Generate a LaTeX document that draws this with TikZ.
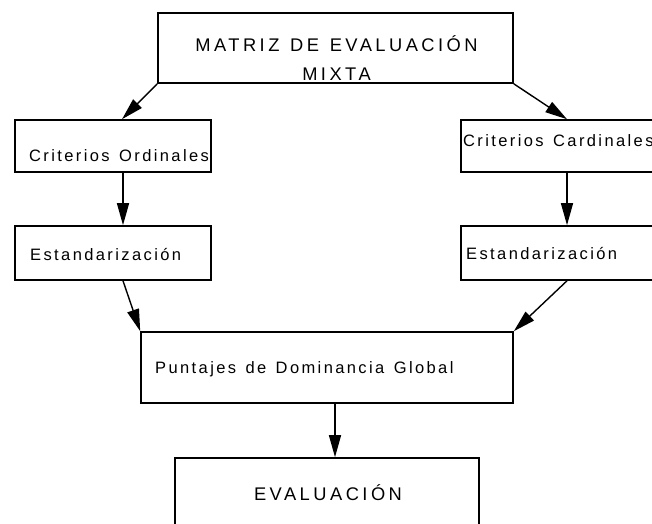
\documentclass[tikz,border=0pt]{standalone}
\usepackage{fontspec}
\usepackage{tikz}
\usetikzlibrary{arrows.meta}
\newfontfamily\diagfont[LetterSpace=14.5,WordSpace=1.35]{Liberation Sans}
\newfontfamily\diagbigfont[LetterSpace=19,WordSpace=1.25]{Liberation Sans}

\begin{document}
\begin{tikzpicture}[x=1pt,y=-1pt,
	caja/.style={draw,line width=1.6pt,rectangle,inner sep=0pt},
	lbl/.style={inner sep=0pt,anchor=base west,font=\diagfont\fontsize{16.5}{19}\selectfont},
	flecha/.style={line width=1.4pt,-{Triangle[length=22pt,width=12pt]}}]
	\useasboundingbox[clip](0,0) rectangle (652,523);
	% cajas
	\node[caja,minimum width=355pt,minimum height=70pt](matriz) at (335.5,48){};
	\node[caja,minimum width=196pt,minimum height=52pt](ord) at (113,146){};
	\node[caja,minimum width=196pt,minimum height=52pt](card) at (559,146){};
	\node[caja,minimum width=196pt,minimum height=54pt](estI) at (113,253){};
	\node[caja,minimum width=196pt,minimum height=54pt](estD) at (559,253){};
	\node[caja,minimum width=372pt,minimum height=71pt](punt) at (327,367.5){};
	\node[caja,minimum width=304pt,minimum height=70pt](eval) at (327,493){};
	% textos
	\node[inner sep=0pt,align=center,font=\diagbigfont\fontsize{18.3}{28.5}\selectfont](matriztxt) at (336.5,58){MATRIZ DE EVALUACIÓN\\MIXTA};
	\node[lbl](ordtxt) at (29,161){Criterios Ordinales};
	\node[lbl](cardtxt) at (463,146){Criterios Cardinales};
	\node[lbl](estItxt) at (30,260){Estandarización};
	\node[lbl](estDtxt) at (466,259.5){Estandarización};
	\node[lbl](punttxt) at (155,373){Puntajes de Dominancia Global};
	\node[inner sep=0pt,anchor=base,font=\diagbigfont\fontsize{18.3}{21}\selectfont](evaltxt) at (328,500.7){EVALUACIÓN};
	% flechas
	\draw[flecha](matriz.south west)--([xshift=9pt]ord.north);
	\draw[flecha](matriz.south east)--([xshift=8pt]card.north);
	\draw[flecha]([xshift=10pt]ord.south)--([xshift=10pt]estI.north);
	\draw[flecha]([xshift=8pt]card.south)--([xshift=8pt]estD.north);
	\draw[flecha]([xshift=10pt]estI.south)--(punt.north west);
	\draw[flecha]([xshift=8pt]estD.south)--(punt.north east);
	\draw[flecha]([xshift=8pt]punt.south)--([xshift=8pt]eval.north);
\end{tikzpicture}
\end{document}
